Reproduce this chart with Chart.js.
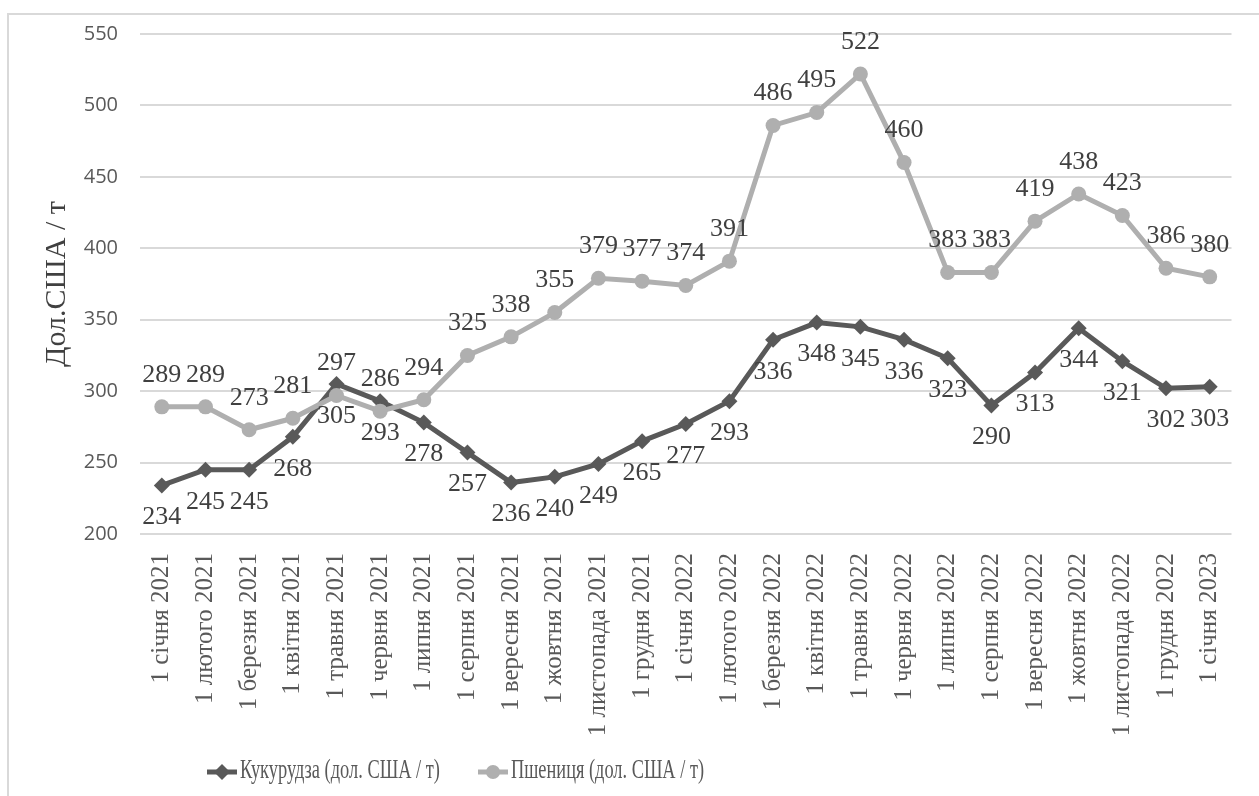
<!DOCTYPE html>
<html>
<head>
<meta charset="utf-8">
<script src="https://cdn.jsdelivr.net/npm/chart.js"></script>
<style>
  html, body { margin: 0; padding: 0; background: #fff; overflow: hidden; }
  #frame { position: absolute; left: 7px; top: 13px; width: 1400px; height: 900px; border: 2px solid #d9d9d9; }
  #wrap { position: absolute; left: 0; top: 0; width: 1259px; height: 796px; }
</style>
</head>
<body>
<div id="frame"></div>
<div id="wrap"><canvas id="chart"></canvas></div>
<script>
// ---- data ----
const months = [
  "1 січня 2021", "1 лютого 2021", "1 березня 2021", "1 квітня 2021", "1 травня 2021",
  "1 червня 2021", "1 липня 2021", "1 серпня 2021", "1 вересня 2021", "1 жовтня 2021",
  "1 листопада 2021", "1 грудня 2021", "1 січня 2022", "1 лютого 2022", "1 березня 2022",
  "1 квітня 2022", "1 травня 2022", "1 червня 2022", "1 липня 2022", "1 серпня 2022",
  "1 вересня 2022", "1 жовтня 2022", "1 листопада 2022", "1 грудня 2022", "1 січня 2023"
];
const corn = [234, 245, 245, 268, 305, 293, 278, 257, 236, 240, 249, 265, 277, 293, 336, 348, 345, 336, 323, 290, 313, 344, 321, 302, 303];
const wheat = [289, 289, 273, 281, 297, 286, 294, 325, 338, 355, 379, 377, 374, 391, 486, 495, 522, 460, 383, 383, 419, 438, 423, 386, 380];
const cornLabel = "Кукурудза (дол. США / т)";
const wheatLabel = "Пшениця (дол. США / т)";
const yTitle = "Дол.США / т";
const yMin = 200, yMax = 550, yStep = 50;

const CORN_COLOR = "#595959";
const WHEAT_COLOR = "#afafaf";
const SERIF = "'Liberation Serif', 'Times New Roman', serif";

// ---- value labels (wheat above, corn below) ----
const valueLabels = {
  id: "valueLabels",
  afterDatasetsDraw(chart) {
    const ctx = chart.ctx;
    ctx.save();
    ctx.font = "26px " + SERIF;
    ctx.fillStyle = "#404040";
    ctx.textAlign = "center";
    ctx.textBaseline = "middle";
    chart.data.datasets.forEach((ds, i) => {
      const meta = chart.getDatasetMeta(i);
      const dy = ds.labelPos === "above" ? -32 : 32;
      meta.data.forEach((pt, j) => ctx.fillText(ds.data[j], pt.x, pt.y + dy));
    });
    ctx.restore();
  }
};

// ---- legend: line + marker + narrow text ----
const legendItems = [
  { x: 207, textWidth: 200 },
  { x: 478, textWidth: 193 }
];
const lineLegend = {
  id: "lineLegend",
  afterDraw(chart) {
    const ctx = chart.ctx;
    const y = 772;
    ctx.save();
    ctx.font = "27px " + SERIF;
    ctx.textBaseline = "middle";
    ctx.textAlign = "left";
    chart.data.datasets.forEach((ds, i) => {
      const x = legendItems[i].x;
      ctx.strokeStyle = ds.borderColor;
      ctx.fillStyle = ds.borderColor;
      ctx.lineWidth = 5;
      ctx.beginPath();
      ctx.moveTo(x, y);
      ctx.lineTo(x + 30, y);
      ctx.stroke();
      ctx.beginPath();
      if (ds.pointStyle === "rectRot") {
        ctx.moveTo(x + 15, y - 8); ctx.lineTo(x + 23, y); ctx.lineTo(x + 15, y + 8); ctx.lineTo(x + 7, y);
      } else {
        ctx.arc(x + 15, y, 7, 0, Math.PI * 2);
      }
      ctx.closePath();
      ctx.fill();
      ctx.fillStyle = "#595959";
      const w = ctx.measureText(ds.label).width;
      ctx.save();
      ctx.translate(x + 33, y - 1);
      ctx.scale(legendItems[i].textWidth / w, 1);
      ctx.fillText(ds.label, 0, 0);
      ctx.restore();
    });
    ctx.restore();
  }
};

new Chart(document.getElementById("chart"), {
  type: "line",
  data: {
    labels: months,
    datasets: [
      {
        label: cornLabel,
        data: corn,
        borderColor: CORN_COLOR,
        backgroundColor: CORN_COLOR,
        borderWidth: 5,
        pointStyle: "rectRot",
        pointRadius: 8,
        pointBorderWidth: 0,
        tension: 0,
        order: 1,
        labelPos: "below"
      },
      {
        label: wheatLabel,
        data: wheat,
        borderColor: WHEAT_COLOR,
        backgroundColor: WHEAT_COLOR,
        borderWidth: 5,
        pointStyle: "circle",
        pointRadius: 7.5,
        pointBorderWidth: 0,
        tension: 0,
        order: 0,
        labelPos: "above"
      }
    ]
  },
  options: {
    responsive: true,
    maintainAspectRatio: false,
    animation: false,
    layout: { padding: { top: 34, right: 16, bottom: 62, left: 0 } },
    plugins: {
      legend: { display: false },
      tooltip: { enabled: false }
    },
    scales: {
      x: {
        offset: true,
        grid: { display: false, drawTicks: false },
        border: { display: false },
        ticks: {
          autoSkip: false,
          minRotation: 90,
          maxRotation: 90,
          padding: 19,
          color: "#595959",
          font: { family: SERIF, size: 25 }
        },
        afterFit(s) { s.height = 200; }
      },
      y: {
        min: yMin,
        max: yMax,
        border: { display: false },
        grid: { color: "#d9d9d9", lineWidth: 2, drawTicks: false },
        ticks: {
          stepSize: yStep,
          padding: 22,
          color: "#595959",
          font: { family: "'Open Sans', sans-serif", size: 20 }
        },
        title: {
          display: true,
          text: yTitle,
          color: "#404040",
          font: { family: SERIF, size: 30 },
          padding: { top: 39, bottom: 0 }
        },
        afterFit(s) { s.width = 140; }
      }
    }
  },
  plugins: [valueLabels, lineLegend]
});
</script>
</body>
</html>
